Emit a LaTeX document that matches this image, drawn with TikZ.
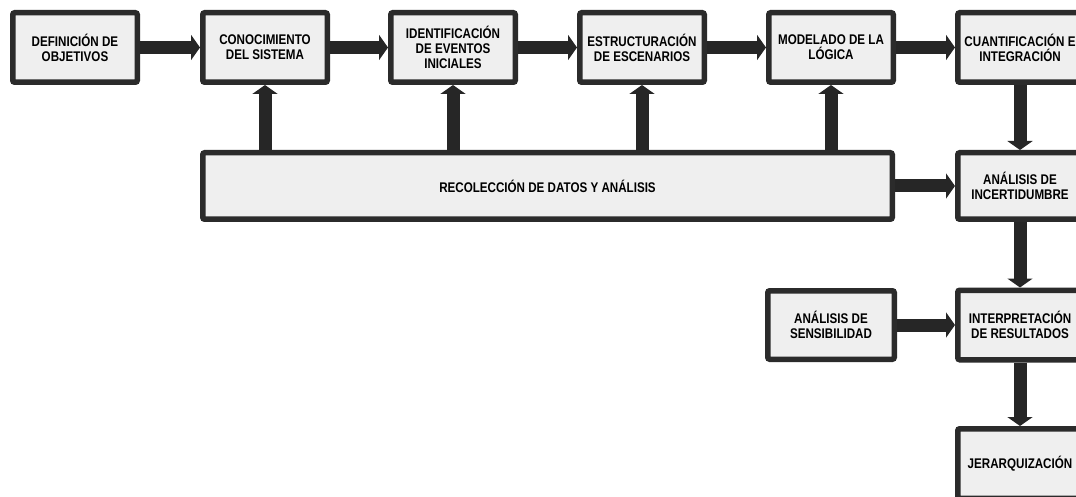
\documentclass[tikz,border=0pt]{standalone}
\usepackage{fontspec}
\setmainfont[FakeStretch=0.83]{Liberation Sans}
\usetikzlibrary{arrows.meta}

\definecolor{bordeetapa}{HTML}{2B2B2B}
\definecolor{rellenoetapa}{HTML}{EFEFEF}
\definecolor{colorflecha}{HTML}{262626}

\begin{document}
\begin{tikzpicture}[x=1pt, y=-1pt,
    etapa/.style={draw=bordeetapa, fill=rellenoetapa, line width=5.5pt, rounded corners=2pt,
      minimum width=124.5pt, minimum height=69.5pt, inner sep=2pt, align=center,
      font=\bfseries\fontsize{14}{15}\selectfont},
    flecha/.style={draw=colorflecha, line width=13pt, -{Triangle[width=25pt,length=9pt]}}]
    \useasboundingbox (0,0) rectangle (1076,497);

    % fila superior
    \node[etapa] (objetivos) at (75, 47.5) {DEFINICIÓN DE\\OBJETIVOS};
    \node[etapa] (sistema) at (265, 47.5) {CONOCIMIENTO\\DEL SISTEMA};
    \node[etapa] (eventos) at (453, 47.5) {IDENTIFICACIÓN\\DE EVENTOS\\INICIALES};
    \node[etapa] (escenarios) at (642, 47.5) {ESTRUCTURACIÓN\\DE ESCENARIOS};
    \node[etapa] (logica) at (831, 47.5) {MODELADO DE LA\\LÓGICA};
    \node[etapa] (cuantificacion) at (1020, 47.5) {CUANTIFICACIÓN E\\INTEGRACIÓN};

    % datos e incertidumbre
    \node[etapa, minimum width=689.5pt, minimum height=66.5pt] (datos) at (547.5, 186) {RECOLECCIÓN DE DATOS Y ANÁLISIS};
    \node[etapa, minimum height=66.5pt] (incertidumbre) at (1020, 186) {ANÁLISIS DE\\INCERTIDUMBRE};

    % resultados
    \node[etapa, minimum width=126.5pt, minimum height=68.5pt] (sensibilidad) at (831, 325) {ANÁLISIS DE\\SENSIBILIDAD};
    \node[etapa] (resultados) at (1020, 325) {INTERPRETACIÓN\\DE RESULTADOS};
    \node[etapa] (jerarquizacion) at (1020, 463.5) {JERARQUIZACIÓN};

    % flechas
    \draw[flecha] (objetivos) -- (sistema);
    \draw[flecha] (sistema) -- (eventos);
    \draw[flecha] (eventos) -- (escenarios);
    \draw[flecha] (escenarios) -- (logica);
    \draw[flecha] (logica) -- (cuantificacion);
    \foreach \dest in {sistema, eventos, escenarios, logica}
      \draw[flecha] (datos.north -| \dest) -- (\dest.south);
    \draw[flecha] (cuantificacion) -- (incertidumbre);
    \draw[flecha] (datos.east |- incertidumbre) -- (incertidumbre.west);
    \draw[flecha] (incertidumbre) -- (resultados);
    \draw[flecha] (sensibilidad) -- (resultados);
    \draw[flecha] (resultados) -- (jerarquizacion);
\end{tikzpicture}
\end{document}
